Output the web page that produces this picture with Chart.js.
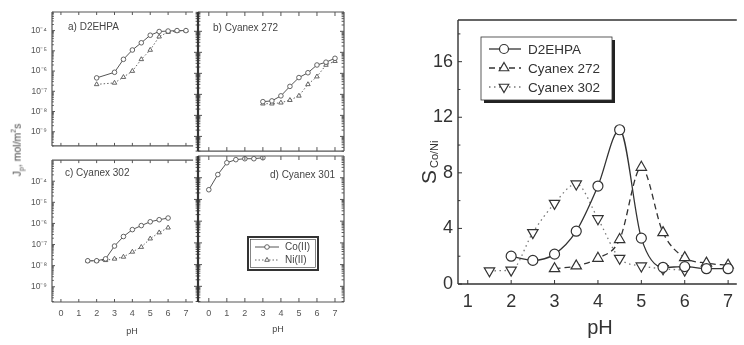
<!DOCTYPE html>
<html>
<head>
<meta charset="utf-8">
<title>Flux and Co/Ni selectivity vs pH</title>
<script src="https://cdn.jsdelivr.net/npm/chart.js@4.4.1/dist/chart.umd.min.js"></script>
<style>
  body { margin: 0; background: #fff; }
  #wrap { position: relative; width: 744px; height: 345px; overflow: hidden; font-family: "Liberation Sans", Arial, sans-serif; }
  #wrap canvas { position: absolute; }
  #jlabel { position: absolute; left: 17px; top: 150px; transform: translate(-50%, -50%) rotate(-90deg); font-size: 10.5px; color: #444; white-space: nowrap; }
  #jlabel sub, #jlabel sup { font-size: 7px; }
</style>
</head>
<body>
<div id="wrap">
  <canvas id="panelA" width="198" height="156" style="left:0;top:0"></canvas>
  <canvas id="panelB" width="160" height="156" style="left:190px;top:0"></canvas>
  <canvas id="panelC" width="198" height="195" style="left:0;top:150px"></canvas>
  <canvas id="panelD" width="160" height="195" style="left:190px;top:150px"></canvas>
  <canvas id="selChart" width="344" height="345" style="left:400px;top:0"></canvas>
  <div id="jlabel">J<sub>p</sub>, mol/m<sup>2</sup>s</div>
</div>
<script>
const FONT = '"Liberation Sans", Arial, sans-serif';
const INK = '#444';

// flux panels (J in mol/m2s)
const phA = [2, 3, 3.5, 4, 4.5, 5, 5.5, 6, 6.5, 7];
const coA = [4.6e-7, 8.7e-7, 3.8e-6, 1.1e-5, 2.5e-5, 5.9e-5, 9e-5, 9.5e-5, 1e-4, 1e-4];
const niA = [2.2e-7, 2.6e-7, 5e-7, 1.0e-6, 3.8e-6, 1.1e-5, 5e-5, 8.5e-5, 9.5e-5, 1e-4];

const phB = [3, 3.5, 4, 4.5, 5, 5.5, 6, 6.5, 7];
const coB = [4.5e-8, 4.9e-8, 8.5e-8, 2.4e-7, 6.3e-7, 1.07e-6, 2.5e-6, 3.4e-6, 5.2e-6];
const niB = [3.6e-8, 3.6e-8, 4e-8, 5.3e-8, 8.5e-8, 3e-7, 7e-7, 2.5e-6, 3.8e-6];

const phC = [1.5, 2, 2.5, 3, 3.5, 4, 4.5, 5, 5.5, 6];
const coC = [1.7e-8, 1.7e-8, 2.1e-8, 8.5e-8, 2.4e-7, 5.1e-7, 7.9e-7, 1.2e-6, 1.5e-6, 1.8e-6];
const niC = [1.7e-8, 1.7e-8, 1.8e-8, 2.1e-8, 2.6e-8, 4.5e-8, 7.6e-8, 1.9e-7, 3.7e-7, 6.3e-7];

const phD = [0, 0.5, 1, 1.5, 2, 2.5, 3];
const coD = [2.8e-5, 1.4e-4, 4.9e-4, 6.8e-4, 7.5e-4, 7.5e-4, 8.3e-4];

const phTicks = [0, 1, 2, 3, 4, 5, 6, 7];
const fluxDecades = [1e-9, 1e-8, 1e-7, 1e-6, 1e-5, 1e-4];

// selectivity S Co/Ni
const phD2 = [2, 2.5, 3, 3.5, 4, 4.5, 5, 5.5, 6, 6.5, 7];
const sD2 = [2.0, 1.7, 2.15, 3.8, 7.05, 11.1, 3.3, 1.2, 1.25, 1.1, 1.1];
const ph272 = [3, 3.5, 4, 4.5, 5, 5.5, 6, 6.5, 7];
const s272 = [1.1, 1.3, 1.85, 3.2, 8.4, 3.7, 1.9, 1.5, 1.35];
const ph302 = [1.5, 2, 2.5, 3, 3.5, 4, 4.5, 5, 5.5, 6];
const s302 = [0.95, 1.0, 3.7, 5.8, 7.2, 4.7, 1.85, 1.3, 1.1, 1.0];
const selTicksX = [1, 2, 3, 4, 5, 6, 7];
const selTicksY = [0, 4, 8, 12, 16];

const SUP = { '-': '\u207b', '0': '\u2070', '1': '\u00b9', '2': '\u00b2', '3': '\u00b3', '4': '\u2074', '5': '\u2075', '6': '\u2076', '7': '\u2077', '8': '\u2078', '9': '\u2079' };
const decadeLabel = (v) => '10' + String(Math.round(Math.log10(v))).split('').map((c) => SUP[c]).join('');

const pts = (xs, ys) => xs.map((x, i) => ({ x, y: ys[i] }));

const minorLog = [];
for (let e = -10; e <= -3; e++) {
  for (let k = 2; k <= 9; k++) minorLog.push(k * Math.pow(10, e));
}

function marker(ctx, style, x, y, r, down) {
  ctx.beginPath();
  if (style === 'circle') {
    ctx.arc(x, y, r, 0, Math.PI * 2);
  } else {
    const s = down ? -1 : 1;
    ctx.moveTo(x, y - s * r);
    ctx.lineTo(x + r * 0.866, y + s * r * 0.5);
    ctx.lineTo(x - r * 0.866, y + s * r * 0.5);
    ctx.closePath();
  }
  ctx.fillStyle = '#fff';
  ctx.fill();
  ctx.stroke();
}

// frame + inward ticks + texts, drawn from the chart's own scales
function frame(f) {
  return {
    id: 'frame',
    afterDraw(chart) {
      const { ctx, chartArea: a } = chart;
      const xs = chart.scales.x, ys = chart.scales.y;
      ctx.save();
      ctx.strokeStyle = f.color || '#555';
      ctx.lineWidth = f.lw || 1.2;
      ctx.beginPath();
      if (f.sides.includes('t')) { ctx.moveTo(a.left, a.top); ctx.lineTo(a.right, a.top); }
      if (f.sides.includes('b')) { ctx.moveTo(a.left, a.bottom); ctx.lineTo(a.right, a.bottom); }
      if (f.sides.includes('l')) { ctx.moveTo(a.left, a.top); ctx.lineTo(a.left, a.bottom); }
      if (f.sides.includes('r')) { ctx.moveTo(a.right, a.top); ctx.lineTo(a.right, a.bottom); }
      ctx.stroke();

      ctx.lineWidth = 1;
      const L = f.len || 3;
      ctx.beginPath();
      (f.xt || []).forEach((v) => {
        const px = xs.getPixelForValue(v);
        if (f.tickX.includes('b')) { ctx.moveTo(px, a.bottom); ctx.lineTo(px, a.bottom - L); }
        if (f.tickX.includes('t')) { ctx.moveTo(px, a.top); ctx.lineTo(px, a.top + L); }
      });
      const yTick = (v, len) => {
        const py = ys.getPixelForValue(v);
        if (py < a.top - 0.5 || py > a.bottom + 0.5) return;
        if (f.tickY.includes('l')) { ctx.moveTo(a.left, py); ctx.lineTo(a.left + len, py); }
        if (f.tickY.includes('r')) { ctx.moveTo(a.right, py); ctx.lineTo(a.right - len, py); }
        if (f.divider) { ctx.moveTo(a.left, py); ctx.lineTo(a.left - len, py); ctx.moveTo(a.left, py); ctx.lineTo(a.left + len, py); }
      };
      (f.yt || []).forEach((v) => yTick(v, L));
      (f.ym || []).forEach((v) => yTick(v, L * 0.6));
      ctx.stroke();

      if (f.divider) {
        ctx.strokeStyle = '#333';
        ctx.lineWidth = 2.2;
        ctx.beginPath();
        ctx.moveTo(a.left, a.top);
        ctx.lineTo(a.left, a.bottom);
        ctx.stroke();
      }

      (f.texts || []).forEach((t) => {
        ctx.font = (t.size || 10) + 'px ' + FONT;
        ctx.fillStyle = t.color || INK;
        ctx.textAlign = t.align || 'left';
        ctx.textBaseline = 'middle';
        ctx.fillText(t.t, t.x, t.y);
      });
      ctx.restore();
    }
  };
}

const coStyle = {
  label: 'Co(II)', borderColor: '#555', borderWidth: 1, pointStyle: 'circle', pointRadius: 2.3,
  pointBackgroundColor: '#fff', pointBorderColor: '#555', pointBorderWidth: 0.9, tension: 0
};
const niStyle = {
  label: 'Ni(II)', borderColor: '#666', borderWidth: 1, borderDash: [1.5, 2], pointStyle: 'triangle', pointRadius: 2.6,
  pointBackgroundColor: '#fff', pointBorderColor: '#555', pointBorderWidth: 0.9, tension: 0
};

function fluxPanel(id, o) {
  return new Chart(document.getElementById(id).getContext('2d'), {
    type: 'line',
    data: { datasets: o.sets },
    options: {
      responsive: false,
      animation: false,
      devicePixelRatio: 1,
      layout: { padding: o.pad },
      plugins: { legend: { display: false }, tooltip: { enabled: false } },
      scales: {
        x: {
          type: 'linear', min: o.xmin, max: o.xmax, display: o.showX,
          grid: { display: false, drawTicks: false }, border: { display: false },
          afterFit: (s) => { s.height = o.showX ? 43 : 0; },
          afterBuildTicks: (s) => { s.ticks = phTicks.map((v) => ({ value: v })); },
          ticks: { padding: 6, autoSkip: false, maxRotation: 0, color: '#555', font: { size: 9, family: FONT } }
        },
        y: {
          type: 'logarithmic', min: o.ymin, max: o.ymax, display: o.showY,
          grid: { display: false, drawTicks: false }, border: { display: false },
          afterFit: (s) => { s.width = o.showY ? 52 : 0; },
          afterBuildTicks: (s) => { s.ticks = fluxDecades.map((v) => ({ value: v })); },
          ticks: { padding: 5, autoSkip: false, color: '#555', font: { size: 8.5, family: FONT }, callback: (v) => decadeLabel(v) }
        }
      }
    },
    plugins: [frame(o.frame)].concat(o.extra || [])
  });
}

fluxPanel('panelA', {
  sets: [Object.assign({ data: pts(phA, coA) }, coStyle), Object.assign({ data: pts(phA, niA) }, niStyle)],
  pad: { top: 12, left: 0, right: 0, bottom: 0 },
  xmin: -0.5, xmax: 7.4, ymin: 2.0e-10, ymax: 8.3e-4, showX: false, showY: true,
  frame: { sides: 'tlb', tickX: 'tb', tickY: 'l', xt: phTicks, yt: fluxDecades, ym: minorLog,
    texts: [{ t: 'a) D2EHPA', x: 68, y: 27 }] }
});

fluxPanel('panelB', {
  sets: [Object.assign({ data: pts(phB, coB) }, coStyle), Object.assign({ data: pts(phB, niB) }, niStyle)],
  pad: { top: 12, left: 8, right: 6, bottom: 0 },
  xmin: -0.6, xmax: 7.5, ymin: 2.0e-10, ymax: 8.3e-4, showX: false, showY: false,
  frame: { sides: 'tbr', tickX: 'tb', tickY: 'r', divider: true, xt: phTicks, yt: fluxDecades, ym: minorLog, len: 4,
    texts: [{ t: 'b) Cyanex 272', x: 23, y: 28 }] }
});

fluxPanel('panelC', {
  sets: [Object.assign({ data: pts(phC, coC) }, coStyle), Object.assign({ data: pts(phC, niC) }, niStyle)],
  pad: { top: 6, left: 0, right: 0, bottom: 0 },
  xmin: -0.5, xmax: 7.4, ymin: 1.9e-10, ymax: 1e-3, showX: true, showY: true,
  frame: { sides: 'tlb', tickX: 'tb', tickY: 'l', xt: phTicks, yt: fluxDecades, ym: minorLog,
    texts: [{ t: 'c) Cyanex 302', x: 65, y: 23 }, { t: 'pH', x: 132, y: 182, align: 'center', size: 9 }] }
});

const fluxLegend = {
  id: 'fluxLegend',
  afterDraw(chart) {
    const ctx = chart.ctx;
    const x = 58, y = 87, w = 70, h = 33;
    ctx.save();
    ctx.fillStyle = '#fff';
    ctx.fillRect(x, y, w, h);
    ctx.strokeStyle = '#333';
    ctx.lineWidth = 2;
    ctx.strokeRect(x, y, w, h);
    ctx.lineWidth = 0.6;
    ctx.strokeRect(x + 2.5, y + 2.5, w - 5, h - 5);
    [coStyle, niStyle].forEach((s, i) => {
      const ly = y + 10 + i * 13;
      ctx.strokeStyle = s.borderColor;
      ctx.lineWidth = 1;
      ctx.setLineDash(s.borderDash || []);
      ctx.beginPath();
      ctx.moveTo(x + 7, ly);
      ctx.lineTo(x + 31, ly);
      ctx.stroke();
      ctx.setLineDash([]);
      ctx.strokeStyle = '#555';
      ctx.lineWidth = 0.9;
      marker(ctx, s.pointStyle, x + 19, ly, s.pointRadius, false);
      ctx.fillStyle = INK;
      ctx.font = '10px ' + FONT;
      ctx.textAlign = 'left';
      ctx.textBaseline = 'middle';
      ctx.fillText(s.label, x + 37, ly);
    });
    ctx.restore();
  }
};

fluxPanel('panelD', {
  sets: [Object.assign({ data: pts(phD, coD) }, coStyle)],
  pad: { top: 6, left: 8, right: 6, bottom: 0 },
  xmin: -0.6, xmax: 7.5, ymin: 1.9e-10, ymax: 1e-3, showX: true, showY: false,
  frame: { sides: 'tbr', tickX: 'tb', tickY: 'r', divider: true, xt: phTicks, yt: fluxDecades, ym: minorLog, len: 4,
    texts: [{ t: 'd) Cyanex 301', x: 145, y: 25, align: 'right' }, { t: 'pH', x: 88, y: 180, align: 'center', size: 9 }] },
  extra: [fluxLegend]
});

// selectivity chart
const SEL_INK = '#333';
const selSets = [
  { label: 'D2EHPA', data: pts(phD2, sD2), borderColor: SEL_INK, borderDash: [], pointStyle: 'circle', pointRadius: 5, pointRotation: 0 },
  { label: 'Cyanex 272', data: pts(ph272, s272), borderColor: SEL_INK, borderDash: [6, 4], pointStyle: 'triangle', pointRadius: 6, pointRotation: 0 },
  { label: 'Cyanex 302', data: pts(ph302, s302), borderColor: '#777', borderDash: [1.5, 3.5], pointStyle: 'triangle', pointRadius: 6, pointRotation: 180 }
].map((d) => Object.assign({
  borderWidth: 1.3, pointBackgroundColor: '#fff', pointBorderColor: SEL_INK,
  pointBorderWidth: 1.2, cubicInterpolationMode: 'monotone', fill: false
}, d));

const selDecor = {
  id: 'selDecor',
  afterDraw(chart) {
    const ctx = chart.ctx;
    ctx.save();
    // legend box with drop shadow
    const x = 81, y = 37, w = 131, h = 63;
    ctx.fillStyle = '#222';
    ctx.fillRect(x + 3, y + 3, w, h);
    ctx.fillStyle = '#fff';
    ctx.fillRect(x, y, w, h);
    ctx.strokeStyle = SEL_INK;
    ctx.lineWidth = 0.8;
    ctx.strokeRect(x, y, w, h);
    selSets.forEach((s, i) => {
      const ly = y + 12 + i * 19;
      ctx.strokeStyle = s.borderColor;
      ctx.lineWidth = 1.3;
      ctx.setLineDash(s.borderDash);
      ctx.beginPath();
      ctx.moveTo(x + 8, ly);
      ctx.lineTo(x + 40, ly);
      ctx.stroke();
      ctx.setLineDash([]);
      ctx.strokeStyle = SEL_INK;
      ctx.lineWidth = 1.2;
      marker(ctx, s.pointStyle, x + 23, ly, s.pointRadius - 0.5, s.pointRotation === 180);
      ctx.fillStyle = SEL_INK;
      ctx.font = '13.5px ' + FONT;
      ctx.textAlign = 'left';
      ctx.textBaseline = 'middle';
      ctx.fillText(s.label, x + 47, ly + 1);
    });

    // axis titles
    ctx.fillStyle = SEL_INK;
    ctx.font = '20px ' + FONT;
    ctx.textAlign = 'center';
    ctx.textBaseline = 'middle';
    ctx.fillText('pH', 200, 328);

    ctx.translate(36, 184);
    ctx.rotate(-Math.PI / 2);
    ctx.textAlign = 'left';
    ctx.textBaseline = 'alphabetic';
    ctx.font = '21px ' + FONT;
    const sw = ctx.measureText('S').width;
    ctx.fillText('S', 0, 0);
    ctx.font = '11px ' + FONT;
    ctx.fillText('Co/Ni', sw + 2, 2);
    ctx.restore();
  }
};

new Chart(document.getElementById('selChart').getContext('2d'), {
  type: 'line',
  data: { datasets: selSets },
  options: {
    responsive: false,
    animation: false,
    devicePixelRatio: 1,
    layout: { padding: { top: 20, left: 0, right: 0, bottom: 0 } },
    plugins: { legend: { display: false }, tooltip: { enabled: false } },
    scales: {
      x: {
        type: 'linear', min: 0.775, max: 7.2,
        grid: { display: false, drawTicks: false }, border: { display: false },
        afterFit: (s) => { s.height = 61; },
        afterBuildTicks: (s) => { s.ticks = selTicksX.map((v) => ({ value: v })); },
        ticks: { padding: 7, autoSkip: false, maxRotation: 0, color: SEL_INK, font: { size: 18, family: FONT } }
      },
      y: {
        type: 'linear', min: 0, max: 19,
        grid: { display: false, drawTicks: false }, border: { display: false },
        afterFit: (s) => { s.width = 58; },
        afterBuildTicks: (s) => { s.ticks = selTicksY.map((v) => ({ value: v })); },
        ticks: { padding: 5, autoSkip: false, color: SEL_INK, font: { size: 18, family: FONT } }
      }
    }
  },
  plugins: [
    frame({ sides: 'tlb', color: SEL_INK, lw: 1.4, tickX: 'b', tickY: 'l', xt: selTicksX, yt: selTicksY, ym: [2, 6, 10, 14, 18], len: 4, texts: [] }),
    selDecor
  ]
});
</script>
</body>
</html>
